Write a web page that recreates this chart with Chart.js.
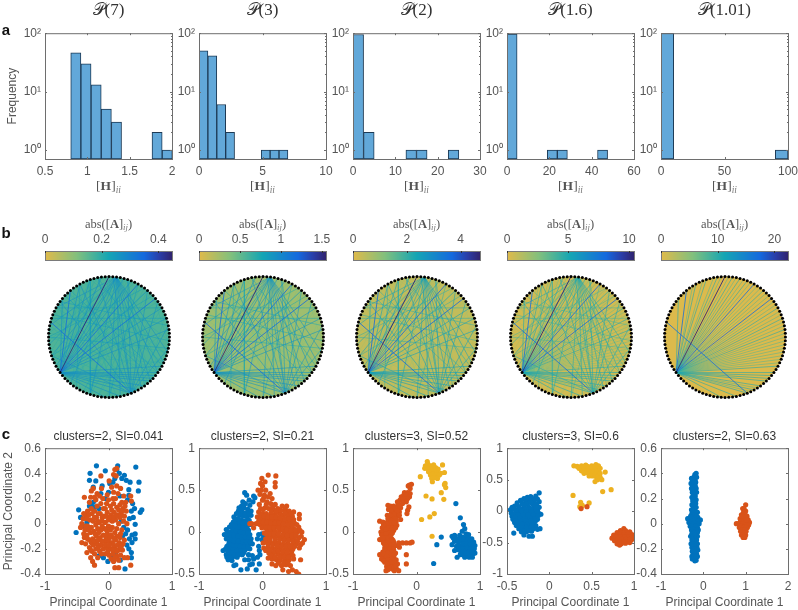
<!DOCTYPE html>
<html>
<head>
<meta charset="utf-8">
<script src="https://cdn.jsdelivr.net/npm/chart.js@4/dist/chart.umd.min.js"></script>
<style>
html, body { margin: 0; padding: 0; background: #fff; }
#page { position: relative; width: 798px; height: 610px; overflow: hidden; font-family: "Liberation Sans", sans-serif; filter: blur(0.35px); }
canvas { position: absolute; }
.lbl { position: absolute; white-space: nowrap; transform: translate(-50%, -50%); color: #555; }
.math { font-family: "Liberation Serif", serif; }
.math sub { font-size: 70%; font-style: italic; vertical-align: -0.3em; line-height: 0; color: #777; }
.head { font-size: 17px; color: #333; }
.hlabel { font-size: 13.5px; }
.alabel { font-size: 12.5px; }
.ctitle { font-size: 12px; color: #333; }
.panel { font-size: 15px; font-weight: bold; color: #111; }
</style>
</head>
<body>
<div id="page"></div>
<script>
// ---- row a: histograms
var titlesA = ["(7)", "(3)", "(2)", "(1.6)", "(1.01)"];
var hist1Bins = [0.864, 0.984, 1.104, 1.224, 1.344, 1.464, 1.584, 1.704, 1.824, 1.944];
var hist1Counts = [46, 30, 13, 5, 3, null, null, null, 2, 1];
var hist2Bins = [0.35, 1.05, 1.75, 2.45, 3.15, 3.85, 4.55, 5.25, 5.95, 6.65];
var hist2Counts = [50, 41, 6, 2, null, null, null, 1, 1, 1];
var hist3Bins = [1.25, 3.75, 6.25, 8.75, 11.25, 13.75, 16.25, 18.75, 21.25, 23.75];
var hist3Counts = [95, 2, null, null, null, 1, 1, null, null, 1];
var hist4Bins = [2.4, 7.15, 11.9, 16.65, 21.4, 26.15, 30.9, 35.65, 40.4, 45.15];
var hist4Counts = [97, null, null, null, 1, 1, null, null, null, 1];
var hist5Bins = [5, 15, 25, 35, 45, 55, 65, 75, 85, 95];
var hist5Counts = [99, null, null, null, null, null, null, null, null, 1];
var histXMax = [2, 10, 30, 60, 100];
var histXMin = [0.5, 0, 0, 0, 0];
var histXTicks = [[0.5, 1, 1.5, 2], [0, 5, 10], [0, 10, 20, 30], [0, 20, 40, 60], [0, 50, 100]];
var histYTicks = [1, 10, 100];
var histYLabels = ["10\u2070", "10\u00b9", "10\u00b2"];
var histYMinor = [2, 3, 4, 5, 6, 7, 8, 9, 20, 30, 40, 50, 60, 70, 80, 90];

// ---- row b: colour bars and circular graphs
var cbarMax = [0.448, 1.55, 4.72, 10.4, 22.4];
var cbarTicks = [[0, 0.2, 0.4], [0, 0.5, 1, 1.5], [0, 2, 4], [0, 5, 10], [0, 10, 20]];
var cbarStops = [[0, 224, 186, 74], [0.25, 130, 192, 125], [0.5, 20, 165, 180], [0.78, 20, 105, 222], [0.9, 42, 62, 168], [1, 48, 35, 110]];
var nodeCount = 100;
var strongEdge = [[60, 25]];
var secondEdges = [[60, 11], [46, 81], [60, 36], [60, 17]];
var hub60Main = [2, 5, 8, 14, 19, 21, 23, 27, 30, 33, 39, 92, 90, 89, 88, 87, 85, 83, 81, 78, 74];
var hub60Extra = [0, 1, 3, 4, 6, 7, 9, 10, 12, 13, 15, 16, 18, 20, 22, 24, 26, 28, 31, 34, 93, 94, 95, 96, 97, 98, 99, 84, 82];
var hub23Targets = [52, 55, 58, 64, 70, 75, 78, 81, 84, 87, 90, 93, 96, 47, 42];
var hub81Targets = [40, 33, 28, 24, 20, 14, 10, 3, 97, 55];
var otherEdges = [[33, 66], [38, 88], [30, 70], [15, 50], [5, 45], [8, 42], [12, 55], [17, 75], [3, 40], [97, 50], [20, 85], [28, 92], [36, 90], [44, 99]];
var weakEdges = [[2, 68], [6, 62], [9, 72], [13, 70], [16, 68], [18, 57], [22, 70], [26, 82], [29, 64], [32, 95], [34, 77], [37, 86], [39, 62], [42, 91], [43, 80], [46, 20], [49, 96], [51, 20], [53, 83], [56, 30], [59, 27], [61, 14], [63, 19], [65, 20], [67, 35], [69, 15], [71, 41], [74, 8], [76, 31], [79, 25], [82, 47], [85, 6], [89, 38], [91, 22], [93, 55], [95, 29], [98, 12], [99, 30], [10, 58], [14, 72], [21, 49], [24, 88], [28, 54], [33, 79], [37, 93], [45, 84], [50, 90], [57, 22], [64, 94], [68, 17]];
var discLevel = [0.165, 0.27, 0.38, 0.42, 0.25];
var strongLevel = [0.44, 1.54, 4.7, 10.3, 22];
var secondLevel = [0.34, 1.2, 3.7, 8, 17];
var hubLevel = [0.27, 0.9, 2.5, 5, 10.5];
var otherLevel = [0.24, 0.75, 2.1, 4, 0];
var weakLevel = [0.19, 0.38, 0.75, 1.3, 0];
var extraLevel = [0, 0, 0, 3.2, 8.5];

// ---- row c: principal coordinates
var scatterTitles = ["clusters=2, SI=0.041", "clusters=2, SI=0.21", "clusters=3, SI=0.52", "clusters=3, SI=0.6", "clusters=2, SI=0.63"];
var scatterXRange = [[-1, 1], [-1, 1], [-1, 1], [-0.5, 1], [-1, 2]];
var scatterYRange = [[-0.4, 0.6], [-0.5, 1], [-0.5, 1], [-1, 1], [-0.4, 0.6]];
var scatterXTicks = [[-1, 0, 1], [-1, 0, 1], [-1, 0, 1], [-0.5, 0, 0.5, 1], [-1, 0, 1, 2]];
var scatterYTicks = [[-0.4, -0.2, 0, 0.2, 0.4, 0.6], [-0.5, 0, 0.5, 1], [-0.5, 0, 0.5, 1], [-1, -0.5, 0, 0.5, 1], [-0.4, -0.2, 0, 0.2, 0.4, 0.6]];

var c1Blue = [[-.51,-.07],[-.47,.11],[-.19,.46],[-.29,.4],[-.3,.345],[-.2,.34],[-.05,.42],[.145,.46],[.43,.45],[.25,.385],[.28,.345],[.21,.36],[.48,.33],[.47,.26],[.34,.33],[.32,.226],[.525,.11],[.5,.09],[.42,-.005],[.42,-.08],[.37,-.15],[.36,-.23],[.26,-.36],[.185,-.29],[-.01,-.3],[-.15,-.255],[.11,-.24],[-.44,.05],[-.28,.15],[-.24,.17],[-.3,.14],[-.22,.13],[.07,.33],[.02,.32],[.1,.36],[.17,.4],[.13,.43],[.32,.27],[.3,.19],[.38,.16],[.36,.1],[.41,.12],[.33,.04],[.39,.05],[.3,-.05],[.37,-.09],[.33,-.12],[.42,-.12],[.27,-.08],[.24,-.03],[.29,-.17],[.36,-.27],[.32,-.2],[-.08,-.27],[.05,-.26],[-.05,.2],[-.12,.24],[0,.25],[-.34,.01],[-.39,-.02],[.2,.02],[.22,-.1],[-.15,.12],[.18,.22],[-.24,.29],[-.1,.3]];
var c1Red = [[.1,.43],[.13,.44],[.08,.39],[.12,.38],[-.12,.38],[.05,.29],[.13,.3],[.08,.25],[-.24,.28],[-.27,.26],[-.38,.21],[-.28,.21],[-.18,.24],[-.14,.22],[-.02,.23],[.07,.2],[.15,.24],[.24,.22],[.35,.22],[.36,.18],[.27,.17],[-.42,0],[-.44,-.03],[-.4,.04],[-.36,.07],[-.33,.1],[-.37,-.05],[-.33,-.02],[-.29,.03],[-.26,.08],[-.31,.07],[-.22,.1],[-.18,.14],[-.12,.16],[-.08,.12],[-.03,.16],[.03,.14],[.08,.16],[.13,.13],[.18,.15],[.23,.12],[.28,.1],[.25,.06],[.2,.08],[.15,.07],[.09,.09],[.04,.07],[-.02,.09],[-.07,.06],[-.13,.08],[-.19,.05],[-.24,.02],[-.2,-.01],[-.15,.01],[-.1,.02],[-.05,.01],[0,.03],[.06,.02],[.11,.03],[.16,0],[.06,-.03],[0,-.02],[-.06,-.04],[-.12,-.05],[-.17,-.04],[-.23,-.06],[-.28,-.07],[-.34,-.09],[-.38,-.11],[-.42,-.15],[-.36,-.16],[-.3,-.13],[-.25,-.12],[-.19,-.1],[-.13,-.11],[-.08,-.09],[-.02,-.08],[.04,-.09],[.1,-.07],[.14,-.1],[.19,-.08],[-.3,-.19],[-.24,-.17],[-.18,-.16],[-.12,-.17],[-.06,-.14],[0,-.14],[.06,-.15],[.11,-.13],[.17,-.15],[.23,-.16],[-.26,-.22],[-.2,-.2],[-.14,-.22],[-.08,-.2],[-.02,-.19],[.04,-.2],[.1,-.19],[.16,-.21],[.22,-.21],[-.28,-.27],[-.25,-.3],[-.22,-.33],[-.05,-.24],[.01,-.25],[.07,-.24],[.13,-.26],[.19,-.25],[.1,-.35],[.16,-.35],[.08,-.3],[.35,-.33],[.3,-.27],[-.34,-.23]];
var c1RedExtra = [[-.39,.08],[-.34,.04],[-.27,.12],[-.2,.19],[-.16,.08],[-.09,.2],[-.05,.12],[0,.19],[.05,.11],[.11,.2],[.16,.11],[.21,.17],[.26,.14],[.18,.05],[.12,.06],[.07,.05],[.01,.05],[-.04,.06],[-.1,.05],[-.17,.02],[-.22,.05],[-.27,-.03],[-.31,-.05],[-.36,-.02],[-.21,-.08],[-.15,-.07],[-.1,-.02],[-.03,-.05],[.03,-.05],[.08,-.11],[.13,-.04],[.18,-.11],[.21,-.05],[-.39,-.08],[-.33,-.12],[-.27,-.15],[-.22,-.14],[-.16,-.13],[-.1,-.14],[-.04,-.11],[.02,-.11],[.08,-.17],[.14,-.17],[.2,-.18],[.25,-.13],[-.28,-.21],[-.22,-.24],[-.16,-.19],[-.11,-.24],[-.05,-.17],[.01,-.17],[.07,-.21],[.13,-.22],[.19,-.19],[-.17,-.27],[.04,-.28],[.1,-.27],[-.01,-.22],[.16,-.29],[.25,-.27],[.24,.02],[.29,0],[-.3,.17],[-.22,.21],[-.11,.28],[.01,.34],[.19,.28],[.21,.1]];
var c2Blue = [[-.28,.47],[-.25,.44],[-.14,.43],[-.12,.41],[-.21,.38],[-.31,.36],[-.15,.36],[-.27,.34],[-.33,.31],[-.2,.32],[-.37,.29],[-.29,.29],[-.23,.27],[-.38,.25],[-.32,.24],[-.26,.23],[-.18,.25],[-.41,.22],[-.35,.2],[-.3,.19],[-.24,.18],[-.18,.2],[-.45,.18],[-.39,.16],[-.33,.14],[-.27,.13],[-.21,.14],[-.46,.12],[-.41,.1],[-.36,.09],[-.3,.08],[-.24,.07],[-.19,.09],[-.52,.06],[-.46,.05],[-.4,.04],[-.34,.03],[-.28,.02],[-.22,.02],[-.57,.03],[-.5,0],[-.44,-.01],[-.38,-.02],[-.32,-.03],[-.26,-.04],[-.2,-.03],[-.6,-.03],[-.54,-.05],[-.48,-.07],[-.42,-.07],[-.36,-.08],[-.3,-.09],[-.24,-.09],[-.18,-.08],[-.06,-.03],[-.01,-.02],[.02,-.05],[-.08,-.08],[-.52,-.11],[-.46,-.13],[-.4,-.13],[-.34,-.14],[-.28,-.15],[-.22,-.15],[-.16,-.14],[.02,-.1],[-.01,-.09],[-.56,-.17],[-.5,-.18],[-.44,-.19],[-.38,-.19],[-.32,-.2],[-.26,-.2],[-.2,-.2],[-.62,-.22],[-.55,-.22],[-.48,-.24],[-.42,-.25],[-.36,-.24],[-.3,-.25],[-.06,-.17],[-.05,-.22],[-.57,-.27],[-.52,-.28],[-.46,-.29],[-.4,-.3],[-.22,-.27],[-.16,-.28],[-.04,-.27],[-.54,-.33],[-.48,-.34],[-.28,-.33],[-.22,-.33],[-.14,-.32],[-.08,-.3],[-.45,-.4],[-.42,-.39],[-.34,-.45],[-.24,-.44],[-.2,-.39],[-.16,-.38],[-.1,-.45],[-.05,-.38]];
var c2BlueExtra = [[-.35,.26],[-.27,.21],[-.21,.22],[-.43,.15],[-.36,.13],[-.3,.11],[-.24,.11],[-.49,.09],[-.43,.07],[-.37,.06],[-.31,.05],[-.25,.04],[-.55,0],[-.47,.02],[-.41,.01],[-.35,0],[-.29,-.01],[-.23,-.01],[-.57,-.08],[-.51,-.03],[-.45,-.04],[-.39,-.05],[-.33,-.06],[-.27,-.06],[-.21,-.06],[-.5,-.09],[-.44,-.1],[-.38,-.11],[-.31,-.12],[-.25,-.12],[-.19,-.12],[-.53,-.14],[-.47,-.16],[-.41,-.16],[-.35,-.17],[-.29,-.18],[-.23,-.18],[-.58,-.2],[-.52,-.2],[-.46,-.21],[-.4,-.22],[-.34,-.22],[-.28,-.22],[-.5,-.25],[-.44,-.27],[-.38,-.27],[-.32,-.27],[-.56,-.3],[-.5,-.31]];
var c2Red = [[.09,.68],[.21,.67],[-.01,.64],[.04,.6],[.2,.59],[-.03,.58],[0,.55],[.2,.54],[-.07,.5],[-.02,.5],[.05,.5],[.12,.46],[-.04,.45],[.03,.44],[.09,.42],[.15,.4],[0,.38],[.07,.36],[.13,.34],[.2,.33],[-.05,.33],[-.03,.28],[.04,.29],[.1,.28],[.17,.27],[.24,.28],[.31,.31],[.38,.31],[.36,.27],[.49,.24],[.42,.25],[-.06,.24],[0,.22],[.06,.22],[.13,.21],[.2,.21],[.27,.22],[.33,.2],[.4,.2],[.47,.19],[.58,.21],[.58,.16],[-.08,.18],[-.03,.16],[.04,.15],[.1,.15],[.17,.14],[.23,.15],[.3,.14],[.37,.13],[.44,.12],[.5,.11],[-.1,.1],[-.04,.09],[.03,.08],[.09,.09],[.15,.08],[.22,.08],[.28,.08],[.35,.06],[.42,.06],[.49,.04],[.57,.06],[.62,0],[-.17,.1],[-.14,.05],[.08,.02],[.14,.02],[.2,.01],[.27,.02],[.34,0],[.41,-.01],[.48,-.01],[.55,0],[.61,-.05],[.03,-.01],[.09,-.05],[.16,-.05],[.23,-.05],[.3,-.06],[.37,-.07],[.44,-.07],[.5,-.08],[.57,-.07],[.66,-.09],[.63,-.13],[.01,-.13],[.06,-.12],[.12,-.12],[.19,-.12],[.26,-.13],[.33,-.14],[.4,-.14],[.47,-.15],[.53,-.14],[.6,-.15],[.58,-.19],[.02,-.19],[.08,-.19],[.15,-.19],[.21,-.2],[.28,-.2],[.35,-.21],[.42,-.21],[.48,-.2],[.1,-.25],[.17,-.26],[.24,-.26],[.31,-.27],[.38,-.27],[.45,-.27],[.6,-.33],[.09,-.31],[.15,-.32],[.22,-.33],[.28,-.34],[.35,-.33],[.42,-.33],[.49,-.32],[.15,-.38],[.21,-.4],[.3,-.4],[.37,-.39],[.44,-.4],[.32,-.45],[.47,-.45],[.53,-.47],[.57,-.5],[.41,-.47],[-.2,.1]];
var c2RedExtra = [[.02,.41],[.06,.33],[.16,.31],[.01,.27],[.14,.24],[.22,.25],[.29,.26],[.35,.23],[.45,.22],[-.03,.2],[.03,.19],[.08,.18],[.15,.18],[.22,.18],[.28,.17],[.35,.16],[.42,.16],[.49,.15],[-.06,.13],[.01,.12],[.07,.12],[.13,.11],[.2,.11],[.26,.11],[.33,.1],[.4,.09],[.47,.08],[.54,.09],[-.01,.05],[.05,.05],[.12,.05],[.18,.05],[.25,.05],[.32,.04],[.38,.03],[.45,.02],[.52,.02],[.59,.02],[.06,-.02],[.12,-.02],[.18,-.02],[.25,-.02],[.32,-.03],[.39,-.04],[.46,-.04],[.53,-.04],[.05,-.08],[.12,-.08],[.2,-.09],[.27,-.09],[.34,-.1],[.41,-.1],[.48,-.11],[.55,-.11],[.09,-.15],[.16,-.15],[.23,-.16],[.3,-.17],[.37,-.17],[.44,-.18],[.51,-.17],[.05,-.22],[.12,-.22],[.19,-.23],[.25,-.23],[.32,-.24],[.39,-.24],[.46,-.23],[.13,-.28],[.2,-.3],[.27,-.3],[.34,-.3],[.41,-.3],[.48,-.28],[.25,-.37],[.34,-.37],[.4,-.36]];
var c3Red = [[-.08,.57],[-.11,.56],[-.13,.55],[-.1,.52],[-.19,.47],[-.14,.47],[-.1,.46],[-.2,.44],[-.16,.44],[-.24,.42],[-.11,.42],[-.14,.4],[-.2,.39],[-.26,.38],[-.3,.36],[-.16,.36],[-.22,.34],[-.29,.33],[-.45,.32],[-.41,.31],[-.36,.31],[-.12,.3],[-.25,.29],[-.31,.27],[-.37,.27],[-.44,.27],[-.14,.26],[-.27,.24],[-.33,.23],[-.39,.22],[-.15,.22],[-.46,.2],[-.3,.19],[-.36,.18],[-.42,.17],[-.25,.15],[-.32,.13],[-.38,.13],[-.44,.13],[-.49,.11],[-.31,.08],[-.36,.07],[-.42,.08],[-.47,.06],[-.58,.13],[-.53,.12],[-.5,.07],[-.54,.05],[-.36,.02],[-.41,.02],[-.46,.01],[-.52,0],[-.56,0],[-.4,-.03],[-.45,-.04],[-.5,-.05],[-.55,-.03],[-.39,-.08],[-.44,-.09],[-.5,-.1],[-.56,-.09],[-.58,-.09],[-.36,-.12],[-.42,-.13],[-.47,-.14],[-.52,-.13],[-.28,-.13],[-.22,-.13],[-.16,-.13],[-.1,-.13],[-.07,-.12],[-.33,-.16],[-.38,-.17],[-.44,-.18],[-.5,-.19],[-.27,-.18],[-.36,-.21],[-.41,-.22],[-.47,-.23],[-.53,-.24],[-.58,-.27],[-.54,-.28],[-.33,-.25],[-.38,-.26],[-.44,-.27],[-.5,-.28],[-.16,-.27],[-.36,-.3],[-.42,-.31],[-.48,-.32],[-.55,-.32],[-.32,-.33],[-.38,-.35],[-.44,-.36],[-.5,-.36],[-.3,-.38],[-.36,-.39],[-.42,-.4],[-.47,-.41],[-.16,-.38],[-.32,-.43],[-.38,-.44],[-.45,-.45],[-.28,-.46],[-.35,-.46],[-.48,-.46]];
var c3RedExtra = [[-.22,.4],[-.27,.31],[-.34,.29],[-.4,.25],[-.3,.25],[-.35,.21],[-.41,.2],[-.27,.2],[-.45,.16],[-.38,.15],[-.33,.16],[-.41,.11],[-.35,.11],[-.47,.1],[-.52,.09],[-.44,.05],[-.38,.05],[-.33,.05],[-.48,.03],[-.43,-.01],[-.38,-.01],[-.53,-.03],[-.48,-.02],[-.42,-.06],[-.47,-.07],[-.53,-.07],[-.37,-.1],[-.45,-.11],[-.5,-.15],[-.41,-.16],[-.36,-.15],[-.47,-.18],[-.38,-.2],[-.43,-.2],[-.5,-.22],[-.39,-.24],[-.45,-.25],[-.52,-.26],[-.41,-.28],[-.47,-.29],[-.35,-.27],[-.39,-.32],[-.45,-.33],[-.52,-.34],[-.35,-.35],[-.41,-.36],[-.46,-.38],[-.33,-.4],[-.4,-.42],[-.43,-.43]];
var c3Yellow = [[.17,.84],[.14,.79],[.18,.81],[.22,.79],[.27,.8],[.41,.8],[.13,.76],[.17,.76],[.21,.75],[.26,.76],[.3,.77],[.34,.75],[.19,.72],[.24,.72],[.28,.73],[.32,.71],[.38,.7],[.44,.71],[.22,.68],[.26,.69],[.31,.68],[.36,.68],[.06,.66],[.24,.64],[.28,.65],[.33,.64],[.25,.6],[.44,.565],[.45,.58],[.46,.53],[.15,.43],[.39,.47],[.245,.395],[.43,.39],[.28,.22],[.21,.18],[.08,.15],[.245,-.05]];
var c3Blue = [[.62,.34],[.69,.17],[.74,.09],[.39,-.06],[.32,-.15],[.27,-.375],[.56,-.05],[.58,-.07],[.6,-.04],[.76,.04],[.72,.01],[.78,-.02],[.82,-.03],[.68,-.04],[.64,-.08],[.72,-.06],[.77,-.07],[.82,-.07],[.87,-.08],[.6,-.11],[.56,-.15],[.66,-.12],[.71,-.11],[.76,-.12],[.81,-.12],[.86,-.12],[.9,-.12],[.63,-.17],[.68,-.16],[.73,-.17],[.78,-.17],[.83,-.17],[.88,-.17],[.92,-.16],[.6,-.22],[.66,-.21],[.71,-.22],[.76,-.22],[.81,-.22],[.86,-.22],[.91,-.2],[.69,-.27],[.74,-.27],[.79,-.27],[.84,-.27],[.89,-.26],[.92,-.25],[.64,-.3],[.76,-.3],[.83,-.3],[.88,-.3],[.7,-.25],[.7,-.09],[.75,-.09],[.8,-.1],[.85,-.1],[.74,-.14],[.79,-.14],[.84,-.15],[.89,-.14],[.7,-.19],[.75,-.2],[.8,-.19],[.85,-.2],[.9,-.19],[.72,-.24],[.78,-.25],[.83,-.24],[.87,-.24],[.66,-.17]];
var c4Blue = [[-.12,.29],[-.16,.24],[-.22,.23],[-.26,.22],[-.3,.2],[-.2,.2],[-.14,.19],[-.34,.17],[-.28,.16],[-.24,.17],[-.18,.16],[-.12,.15],[-.38,.13],[-.32,.12],[-.26,.11],[-.2,.12],[-.15,.11],[-.44,.06],[-.41,.08],[-.36,.07],[-.3,.07],[-.24,.06],[-.18,.07],[-.12,.06],[-.46,.02],[-.42,.03],[-.37,.02],[-.32,.02],[-.26,.01],[-.2,.02],[-.14,.01],[-.1,-.05],[-.45,-.03],[-.4,-.03],[-.35,-.03],[-.29,-.04],[-.23,-.04],[-.17,-.04],[-.12,-.04],[-.44,-.08],[-.39,-.08],[-.33,-.09],[-.27,-.09],[-.21,-.09],[-.15,-.09],[-.43,-.13],[-.38,-.13],[-.32,-.14],[-.26,-.14],[-.2,-.14],[-.14,-.13],[-.41,-.18],[-.36,-.18],[-.3,-.19],[-.24,-.19],[-.18,-.18],[-.39,-.23],[-.34,-.23],[-.28,-.24],[-.22,-.24],[-.16,-.23],[-.36,-.28],[-.3,-.29],[-.24,-.29],[-.19,-.28],[-.11,-.28],[-.42,-.35],[-.33,-.33],[-.27,-.33],[-.21,-.32],[-.3,-.38],[-.24,-.4],[-.2,-.4],[-.14,-.29],[-.28,.19],[-.22,.14],[-.3,.1],[-.35,.04],[-.28,.04],[-.22,.04],[-.16,.04],[-.39,0],[-.33,0],[-.27,-.01],[-.21,-.01],[-.15,-.01],[-.42,-.05],[-.37,-.06],[-.31,-.06],[-.25,-.06],[-.19,-.06],[-.13,-.07],[-.41,-.1],[-.35,-.11],[-.29,-.12],[-.23,-.11],[-.17,-.12],[-.4,-.15],[-.34,-.16],[-.28,-.16],[-.22,-.16],[-.16,-.15],[-.32,-.21],[-.26,-.21],[-.2,-.21],[-.33,-.26],[-.27,-.26],[-.21,-.26],[-.3,-.31],[-.24,-.31]];
var c4Yellow = [[.29,.72],[.33,.71],[.38,.72],[.43,.73],[.5,.72],[.55,.74],[.58,.72],[.35,.68],[.39,.68],[.43,.68],[.47,.68],[.52,.69],[.56,.68],[.6,.68],[.38,.64],[.42,.64],[.46,.64],[.5,.65],[.54,.64],[.58,.64],[.66,.62],[.41,.6],[.45,.61],[.49,.6],[.53,.6],[.57,.59],[.47,.56],[.51,.56],[.55,.55],[.6,.54],[.62,.5],[.57,.5],[.54,.47],[.63,.31],[.73,.34],[.28,.25],[.37,.14],[.47,.13],[.39,.09],[.36,.07],[.45,.71],[.41,.71],[.5,.7],[.54,.71],[.44,.62],[.48,.62],[.52,.62],[.56,.62],[.5,.58],[.54,.58],[.58,.56],[.6,.6]];
var c4Red = [[.375,.04],[.445,.07],[.88,-.28],[.84,-.31],[.9,-.31],[.95,-.33],[.8,-.34],[.85,-.35],[.9,-.35],[.96,-.36],[.76,-.38],[.81,-.39],[.86,-.39],[.91,-.39],[.97,-.4],[.99,-.38],[.74,-.43],[.79,-.43],[.84,-.43],[.89,-.43],[.94,-.43],[.99,-.43],[.77,-.47],[.82,-.47],[.87,-.47],[.92,-.47],[.97,-.46],[.8,-.52],[.85,-.52],[.9,-.51],[.95,-.5],[.83,-.54],[.83,-.37],[.88,-.37],[.93,-.37],[.79,-.41],[.84,-.41],[.89,-.41],[.94,-.41],[.97,-.43],[.81,-.45],[.86,-.45],[.91,-.45],[.95,-.45],[.83,-.49],[.88,-.49]];
var c5Blue = [[-.17,.4],[-.2,.39],[-.22,.37],[-.16,.37],[-.28,.36],[-.2,.35],[-.25,.33],[-.18,.33],[-.29,.32],[-.22,.31],[-.24,.29],[-.17,.28],[-.28,.28],[-.21,.26],[-.26,.25],[-.16,.25],[-.23,.23],[-.19,.22],[-.27,.21],[-.22,.2],[-.17,.19],[-.25,.18],[-.2,.16],[-.27,.15],[-.23,.13],[-.17,.13],[-.28,.11],[-.21,.1],[-.14,.09],[-.27,.08],[-.19,.07],[-.3,.06],[-.23,.05],[-.13,.05],[-.37,.04],[-.3,.03],[-.22,.03],[-.15,.02],[-.07,.03],[-.34,.01],[-.27,0],[-.18,.01],[-.1,0],[-.31,-.02],[-.23,-.02],[-.14,-.03],[-.28,-.05],[-.2,-.05],[-.12,-.05],[-.26,-.08],[-.17,-.08],[-.3,-.1],[-.22,-.11],[-.14,-.1],[-.27,-.13],[-.19,-.13],[-.29,-.16],[-.21,-.16],[-.14,-.16],[-.27,-.19],[-.18,-.19],[-.26,-.22],[-.2,-.22],[-.13,-.21],[-.24,-.24],[-.16,-.24],[-.27,-.26],[-.2,-.26],[-.14,-.26],[-.22,-.28],[-.17,-.29],[-.26,-.28],[-.2,-.295],[-.19,.37],[-.24,.35],[-.22,.33],[-.26,.31],[-.19,.3],[-.21,.28],[-.25,.27],[-.19,.25],[-.24,.24],[-.21,.21],[-.25,.2],[-.22,.17],[-.18,.16],[-.24,.15],[-.2,.12],[-.25,.11],[-.23,.09],[-.17,.09],[-.24,.07],[-.16,.06],[-.28,.05],[-.2,.04],[-.26,.02],[-.18,.03],[-.12,.02],[-.24,0],[-.15,0],[-.28,-.02],[-.19,-.02],[-.25,-.04],[-.16,-.05],[-.23,-.07],[-.14,-.07],[-.27,-.08],[-.2,-.09],[-.25,-.11],[-.17,-.11],[-.23,-.13],[-.16,-.13],[-.25,-.16],[-.18,-.16],[-.23,-.18],[-.15,-.19],[-.22,-.2],[-.16,-.21],[-.23,-.22],[-.19,-.24],[-.22,-.26],[-.17,-.26]];
var c5Red = [[1,.15],[.93,.12],[1,.1],[.95,.09],[.9,.07],[.97,.06],[1.03,.06],[.87,.04],[.93,.03],[.99,.03],[1.06,.03],[.78,0],[.83,0],[.9,0],[.96,0],[1.03,.01],[1.09,.01],[.85,-.03],[.92,-.03],[.98,-.03],[1.04,-.03],[.88,-.06],[.95,-.06],[1.01,-.06],[.9,-.09],[.96,-.09],[1,-.09],[.94,-.11],[.98,-.11],[.96,.12],[.98,.08],[.92,.06],[1,.05],[.88,.02],[.96,.02],[1.02,.03],[.86,0],[.93,0],[1,-.01],[1.07,-.01],[.89,-.02],[.95,-.03],[1.01,-.03],[.91,-.05],[.98,-.05],[.92,-.07],[.98,-.07],[.93,-.09],[.97,-.1]];

var BLUE = "#0072bd", RED = "#d95319", YELLOW = "#edb120";
var TICK = "#555555", FRAME = "#6e6e6e";

// layout of the five columns
var colLeft = [45, 199, 353, 507, 661];
var colWidth = 127;
var colRight = 16, colTop = 10;

var page = document.getElementById("page");

function addLabel(html, cx, cy, cls) {
    var d = document.createElement("div");
    d.className = "lbl " + cls;
    d.style.left = cx + "px";
    d.style.top = cy + "px";
    d.innerHTML = html;
    page.appendChild(d);
}

function addCanvas(left, top, w, h) {
    var c = document.createElement("canvas");
    c.width = w;
    c.height = h;
    c.style.left = left + "px";
    c.style.top = top + "px";
    c.style.width = w + "px";
    c.style.height = h + "px";
    page.appendChild(c);
    return c;
}

// box with inward ticks on all sides, the matlab look
var framePlugin = {
    id: "frame",
    afterDatasetsDraw: function(chart, args, opts) {
        var ctx = chart.ctx, a = chart.chartArea;
        ctx.save();
        ctx.strokeStyle = FRAME;
        ctx.lineWidth = 1;
        ctx.beginPath();
        chart.scales.x.ticks.forEach(function(t) {
            var p = Math.round(chart.scales.x.getPixelForValue(t.value)) + 0.5;
            ctx.moveTo(p, a.bottom); ctx.lineTo(p, a.bottom - 2);
            ctx.moveTo(p, a.top); ctx.lineTo(p, a.top + 2);
        });
        chart.scales.y.ticks.forEach(function(t) {
            var p = Math.round(chart.scales.y.getPixelForValue(t.value)) + 0.5;
            ctx.moveTo(a.left, p); ctx.lineTo(a.left + 2, p);
            ctx.moveTo(a.right, p); ctx.lineTo(a.right - 2, p);
        });
        if (opts.minor) {
            opts.minor.forEach(function(v) {
                var p = Math.round(chart.scales.y.getPixelForValue(v)) + 0.5;
                ctx.moveTo(a.left, p); ctx.lineTo(a.left + 1, p);
                ctx.moveTo(a.right, p); ctx.lineTo(a.right - 1, p);
            });
        }
        ctx.stroke();
        ctx.strokeRect(a.left + 0.5, a.top + 0.5, a.right - a.left, a.bottom - a.top);
        ctx.restore();
    }
};

function baseOptions() {
    return {
        responsive: false,
        animation: false,
        events: [],
        layout: { autoPadding: false, padding: { left: 0, right: colRight, top: colTop, bottom: 0 } },
        plugins: { legend: { display: false }, tooltip: { enabled: false } }
    };
}

function fixedTicks(list) {
    return function(scale) {
        scale.ticks = list.map(function(v) { return { value: v }; });
    };
}

function tickFont() {
    return { family: "Liberation Sans", size: 12 };
}

function xAxis(min, max, ticks, title) {
    return {
        type: "linear", min: min, max: max, offset: false,
        grid: { display: false, drawTicks: false }, border: { display: false },
        afterBuildTicks: fixedTicks(ticks),
        afterFit: function(s) { s.height = 36; },
        ticks: { color: TICK, font: tickFont(), padding: 5, maxRotation: 0, autoSkip: false,
            callback: function(v) { return String(v); } },
        title: title ? { display: true, text: title, color: TICK, font: tickFont(), padding: { top: 0, bottom: 0 } } : { display: false }
    };
}

function yAxis(type, min, max, ticks, leftW, labelFn, title, titlePad) {
    return {
        type: type, min: min, max: max,
        grid: { display: false, drawTicks: false }, border: { display: false },
        afterBuildTicks: fixedTicks(ticks),
        afterFit: function(s) { s.width = leftW; },
        ticks: { color: TICK, font: tickFont(), padding: 4, autoSkip: false, callback: labelFn },
        title: title ? { display: true, text: title, color: TICK, font: tickFont(), padding: { top: titlePad, bottom: 0 } } : { display: false }
    };
}

// ---- row a
var histBins = [hist1Bins, hist2Bins, hist3Bins, hist4Bins, hist5Bins];
var histCounts = [hist1Counts, hist2Counts, hist3Counts, hist4Counts, hist5Counts];

histBins.forEach(function(bins, i) {
    var leftW = i == 0 ? 45 : 40;
    var top = 32, h = 127;
    var c = addCanvas(colLeft[i] - leftW, top - colTop, leftW + colWidth + colRight, colTop + h + 36);
    var opts = baseOptions();
    opts.plugins.frame = { minor: histYMinor };
    opts.scales = {
        x: xAxis(histXMin[i], histXMax[i], histXTicks[i]),
        y: yAxis("logarithmic", 0.7, 100, histYTicks, leftW, function(v) {
            return histYLabels[histYTicks.indexOf(v)];
        }, i == 0 ? "Frequency" : null, 5)
    };
    new Chart(c, {
        type: "bar",
        data: {
            datasets: [{
                data: bins.map(function(b, k) { return { x: b, y: histCounts[i][k] }; }),
                backgroundColor: "#62a8d9",
                borderColor: "#1d3a55",
                borderWidth: 1,
                borderSkipped: false,
                barPercentage: 1,
                categoryPercentage: 1
            }]
        },
        options: opts,
        plugins: [framePlugin]
    });
    addLabel('\ud835\udcab' + titlesA[i], colLeft[i] + colWidth / 2, 10, "math head");
    addLabel('[<b>H</b>]<sub>ii</sub>', colLeft[i] + colWidth / 2, 186, "math hlabel");
});

// ---- row b
function cmapColor(t) {
    t = Math.max(0, Math.min(1, t));
    for (var k = 1; k < cbarStops.length; k++) {
        var a = cbarStops[k - 1], b = cbarStops[k];
        if (t <= b[0]) {
            var f = (t - a[0]) / (b[0] - a[0]);
            return "rgb(" + [1, 2, 3].map(function(n) { return Math.round(a[n] + (b[n] - a[n]) * f); }).join(",") + ")";
        }
    }
    return "rgb(48,35,110)";
}

function nodeAt(n) {
    var ang = n / nodeCount * 2 * Math.PI;
    return { x: Math.cos(ang), y: Math.sin(ang) };
}

function edgeDataset(pair, level, max, width) {
    return {
        showLine: true, pointRadius: 0,
        data: [nodeAt(pair[0]), nodeAt(pair[1])],
        borderColor: cmapColor(level / max),
        borderWidth: width
    };
}

function hubPairs(hub, list) {
    return list.map(function(t) { return [hub, t]; });
}

var allNodes = [];
for (var n = 0; n < nodeCount; n++) allNodes.push(n);

cbarMax.forEach(function(max, i) {
    // colour bar
    var bar = addCanvas(colLeft[i] - 20, 232, 20 + colWidth + colRight, 29);
    new Chart(bar, {
        type: "bar",
        data: {
            labels: [""],
            datasets: [{
                data: [max],
                barPercentage: 1,
                categoryPercentage: 1,
                backgroundColor: function(ctx) {
                    var a = ctx.chart.chartArea;
                    if (!a) return "#ccc";
                    var g = ctx.chart.ctx.createLinearGradient(a.left, 0, a.right, 0);
                    cbarStops.forEach(function(s) { g.addColorStop(s[0], "rgb(" + s[1] + "," + s[2] + "," + s[3] + ")"); });
                    return g;
                }
            }]
        },
        options: {
            indexAxis: "y",
            responsive: false,
            animation: false,
            events: [],
            layout: { autoPadding: false, padding: { left: 20, right: colRight, top: 0, bottom: 0 } },
            plugins: { legend: { display: false }, tooltip: { enabled: false } },
            scales: {
                x: {
                    type: "linear", position: "top", min: 0, max: max, offset: false,
                    grid: { display: false, drawTicks: false }, border: { display: false },
                    afterBuildTicks: fixedTicks(cbarTicks[i]),
                    afterFit: function(s) { s.height = 19; },
                    ticks: { color: TICK, font: tickFont(), padding: 4, maxRotation: 0, autoSkip: false,
                        callback: function(v) { return String(v); } }
                },
                y: { display: false }
            }
        },
        plugins: [{
            id: "barFrame",
            afterDatasetsDraw: function(chart) {
                var ctx = chart.ctx, a = chart.chartArea, sx = chart.scales.x;
                ctx.save();
                ctx.strokeStyle = "#7a7a7a";
                ctx.strokeRect(a.left + 0.5, a.top + 0.5, a.right - a.left, a.bottom - a.top - 1);
                ctx.strokeStyle = "#333";
                ctx.beginPath();
                sx.ticks.forEach(function(t) {
                    var p = Math.round(sx.getPixelForValue(t.value)) + 0.5;
                    ctx.moveTo(p, a.top); ctx.lineTo(p, a.top + 2);
                });
                ctx.stroke();
                ctx.restore();
            }
        }]
    });
    addLabel('abs([<b>A</b>]<sub>ij</sub>)', colLeft[i] + colWidth / 2, 224, "math alabel");

    // circular graph, first dataset ends up on top
    var sets = [];
    sets.push({ data: allNodes.map(nodeAt), pointRadius: 1.5, pointBackgroundColor: "#000", pointBorderWidth: 0 });
    strongEdge.forEach(function(p) { sets.push(edgeDataset(p, strongLevel[i], max, 0.9)); });
    secondEdges.forEach(function(p) { sets.push(edgeDataset(p, secondLevel[i], max, 0.8)); });
    hubPairs(60, hub60Main).forEach(function(p) { sets.push(edgeDataset(p, hubLevel[i], max, 0.6)); });
    if (i < 4) {
        hubPairs(23, hub23Targets).forEach(function(p) { sets.push(edgeDataset(p, hubLevel[i], max, 0.55)); });
        hubPairs(81, hub81Targets).forEach(function(p) { sets.push(edgeDataset(p, hubLevel[i], max, 0.55)); });
        otherEdges.forEach(function(p) { sets.push(edgeDataset(p, otherLevel[i], max, 0.5)); });
        weakEdges.forEach(function(p) { sets.push(edgeDataset(p, weakLevel[i], max, 0.5)); });
    }
    if (extraLevel[i] > 0) {
        hubPairs(60, hub60Extra).forEach(function(p) { sets.push(edgeDataset(p, extraLevel[i], max, 0.5)); });
    }
    sets.push({
        showLine: true, pointRadius: 0, borderWidth: 0,
        data: allNodes.map(nodeAt),
        fill: "shape",
        backgroundColor: cmapColor(discLevel[i] / max)
    });

    var cx = colLeft[i] + colWidth / 2;
    var g = addCanvas(Math.round(cx - 65), 272, 130, 130);
    new Chart(g, {
        type: "scatter",
        data: { datasets: sets },
        options: {
            responsive: false,
            animation: false,
            events: [],
            layout: { autoPadding: false, padding: 0 },
            plugins: { legend: { display: false }, tooltip: { enabled: false } },
            scales: {
                x: { display: false, min: -1.075, max: 1.075 },
                y: { display: false, min: -1.075, max: 1.075 }
            }
        }
    });
});

// ---- row c
var scatterSeries = [
    [[c1Red.concat(c1RedExtra), RED], [c1Blue, BLUE]],
    [[c2Red.concat(c2RedExtra), RED], [c2Blue.concat(c2BlueExtra), BLUE]],
    [[c3Red.concat(c3RedExtra), RED], [c3Yellow, YELLOW], [c3Blue, BLUE]],
    [[c4Red, RED], [c4Yellow, YELLOW], [c4Blue, BLUE]],
    [[c5Red, RED], [c5Blue, BLUE]]
];

scatterSeries.forEach(function(series, i) {
    var leftW = i == 0 ? 45 : 40;
    var top = 447, h = 127;
    var c = addCanvas(colLeft[i] - leftW, top - colTop, leftW + colWidth + colRight, colTop + h + 36);
    var opts = baseOptions();
    opts.plugins.frame = {};
    opts.scales = {
        x: xAxis(scatterXRange[i][0], scatterXRange[i][1], scatterXTicks[i], "Principal Coordinate 1"),
        y: yAxis("linear", scatterYRange[i][0], scatterYRange[i][1], scatterYTicks[i], leftW, function(v) {
            return String(v);
        }, i == 0 ? "Principal Coordinate 2" : null, 1)
    };
    new Chart(c, {
        type: "scatter",
        data: {
            datasets: series.map(function(s) {
                return {
                    data: s[0].map(function(p) { return { x: p[0], y: p[1] }; }),
                    pointRadius: 2.6, pointBorderWidth: 0, pointBackgroundColor: s[1]
                };
            })
        },
        options: opts,
        plugins: [framePlugin]
    });
    addLabel(scatterTitles[i], colLeft[i] + colWidth / 2, 436, "ctitle");
});

addLabel("a", 6, 29, "panel");
addLabel("b", 6, 232, "panel");
addLabel("c", 6, 433, "panel");
</script>
</body>
</html>
